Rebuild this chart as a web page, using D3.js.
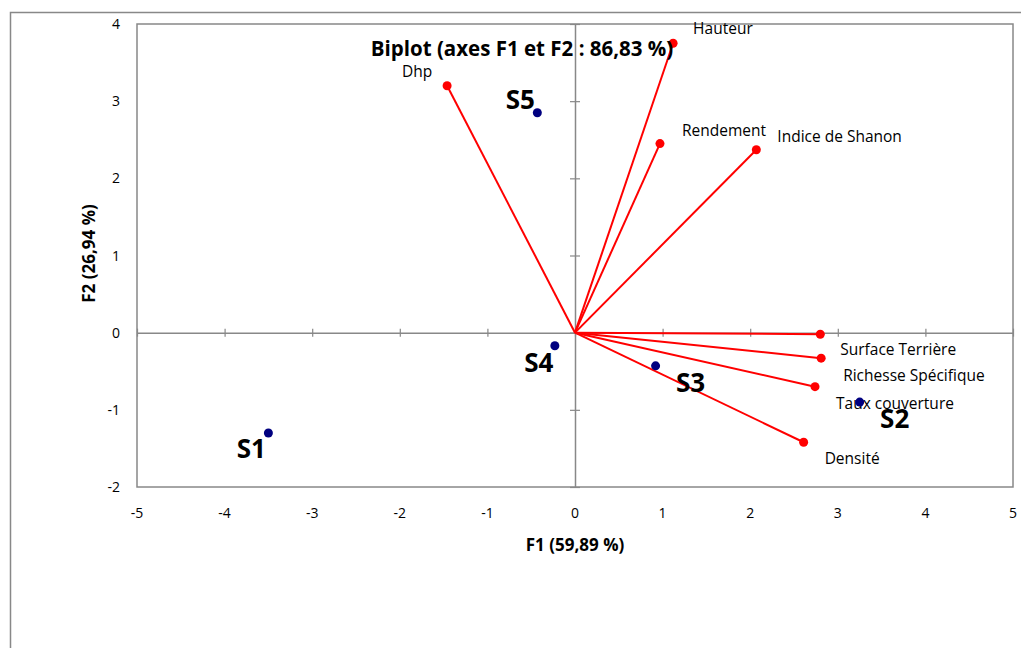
<!DOCTYPE html>
<html>
<head>
<meta charset="utf-8">
<script src="https://cdn.jsdelivr.net/npm/d3@7"></script>
<style>
  body { margin: 0; background: #fff; }
  text { font-family: "Open Sans", "Noto Sans", sans-serif; fill: #000; }
</style>
</head>
<body>
<div id="chart"></div>
<script>
// --- Data ---
const varNames = ["Hauteur", "Dhp", "Rendement", "Indice de Shanon", "Surface Terrière",
                  "Richesse Spécifique", "Taux couverture", "Densité"];
const varF1 = [1.12, -1.46, 0.97, 2.07, 2.80, 2.81, 2.74, 2.61];
const varF2 = [3.75, 3.20, 2.45, 2.37, -0.02, -0.33, -0.70, -1.42];

const obsNames = ["S1", "S2", "S3", "S4", "S5"];
const obsF1 = [-3.50, 3.25, 0.92, -0.23, -0.43];
const obsF2 = [-1.30, -0.90, -0.43, -0.17, 2.85];

const xTicks = [-5, -4, -3, -2, -1, 0, 1, 2, 3, 4, 5];
const yTicks = [-2, -1, 0, 1, 2, 3, 4];

// label offsets in px (layout only)
const varLabelOffsets = [[20, -9], [-30, -9], [22, -8], [21, -8], [20, 21], [22, 23], [21, 22], [21, 22]];
const obsLabelOffsets = [[-17, 25], [35, 26], [35, 26], [-16, 26], [-17, -4]];

const width = 1021, height = 648;
const plot = { left: 137, right: 1013, top: 24, bottom: 487 };

const svg = d3.select("#chart").append("svg")
    .attr("width", width)
    .attr("height", height);

// outer chart border (only top/left visible in the picture)
svg.append("rect")
    .attr("x", 10.5).attr("y", 12.5)
    .attr("width", width + 20).attr("height", height + 20)
    .attr("fill", "none").attr("stroke", "#888").attr("stroke-width", 1.5);

const x = d3.scaleLinear().domain([-5, 5]).range([plot.left, plot.right]);
const y = d3.scaleLinear().domain([-2, 4]).range([plot.bottom, plot.top]);

// plot area frame
svg.append("rect")
    .attr("x", plot.left).attr("y", plot.top)
    .attr("width", plot.right - plot.left).attr("height", plot.bottom - plot.top)
    .attr("fill", "none").attr("stroke", "#888").attr("stroke-width", 1.5);

// --- Zero axes with cross ticks ---
const xAxis = d3.axisBottom(x).tickValues(xTicks).tickSize(0).tickFormat("");
const gx = svg.append("g").attr("transform", `translate(0,${y(0)})`).call(xAxis);
gx.select(".domain").attr("stroke", "#888").attr("stroke-width", 1.5);
gx.selectAll(".tick").append("line")
    .attr("y1", -4).attr("y2", 4).attr("stroke", "#888").attr("stroke-width", 1.2);

const yAxis = d3.axisLeft(y).tickValues(yTicks).tickSize(0).tickFormat("");
const gy = svg.append("g").attr("transform", `translate(${x(0)},0)`).call(yAxis);
gy.select(".domain").attr("stroke", "#888").attr("stroke-width", 1.5);
gy.selectAll(".tick").append("line")
    .attr("x1", -5).attr("x2", 5).attr("stroke", "#888").attr("stroke-width", 1.2);

// tick labels outside the frame
svg.append("g").selectAll("text")
    .data(xTicks).join("text")
    .attr("x", d => x(d)).attr("y", plot.bottom + 31)
    .attr("text-anchor", "middle").attr("font-size", 14)
    .text(d => d);

svg.append("g").selectAll("text")
    .data(yTicks).join("text")
    .attr("x", 120).attr("y", d => y(d) + 5)
    .attr("text-anchor", "end").attr("font-size", 14)
    .text(d => d);

// --- Variable vectors ---
const vars = varNames.map((n, i) => ({ name: n, f1: varF1[i], f2: varF2[i], off: varLabelOffsets[i] }));
svg.append("g").selectAll("line")
    .data(vars).join("line")
    .attr("x1", x(0)).attr("y1", y(0))
    .attr("x2", d => x(d.f1)).attr("y2", d => y(d.f2))
    .attr("stroke", "#ff0000").attr("stroke-width", 2);

svg.append("g").selectAll("circle")
    .data(vars).join("circle")
    .attr("cx", d => x(d.f1)).attr("cy", d => y(d.f2))
    .attr("r", 4.5).attr("fill", "#ff0000");

svg.append("g").selectAll("text")
    .data(vars).join("text")
    .attr("x", d => x(d.f1) + d.off[0]).attr("y", d => y(d.f2) + d.off[1])
    .attr("font-size", 15.5)
    .attr("text-anchor", d => d.off[0] < 0 ? "middle" : "start")
    .text(d => d.name);

// --- Observations ---
const obs = obsNames.map((n, i) => ({ name: n, f1: obsF1[i], f2: obsF2[i], off: obsLabelOffsets[i] }));
svg.append("g").selectAll("circle")
    .data(obs).join("circle")
    .attr("cx", d => x(d.f1)).attr("cy", d => y(d.f2))
    .attr("r", 4.5).attr("fill", "#000080");

svg.append("g").selectAll("text")
    .data(obs).join("text")
    .attr("x", d => x(d.f1) + d.off[0]).attr("y", d => y(d.f2) + d.off[1])
    .attr("text-anchor", "middle")
    .attr("font-size", 26).attr("font-weight", "bold")
    .text(d => d.name);

// --- Titles ---
svg.append("text")
    .attr("x", 522).attr("y", 56)
    .attr("text-anchor", "middle")
    .attr("font-size", 20.5).attr("font-weight", "bold")
    .text("Biplot (axes F1 et F2 : 86,83 %)");

svg.append("text")
    .attr("x", 575).attr("y", 551)
    .attr("text-anchor", "middle")
    .attr("font-size", 17).attr("font-weight", "bold")
    .text("F1 (59,89 %)");

svg.append("text")
    .attr("transform", `translate(95,${(plot.top + plot.bottom) / 2 - 2}) rotate(-90)`)
    .attr("text-anchor", "middle")
    .attr("font-size", 17).attr("font-weight", "bold")
    .text("F2 (26,94 %)");
</script>
</body>
</html>
